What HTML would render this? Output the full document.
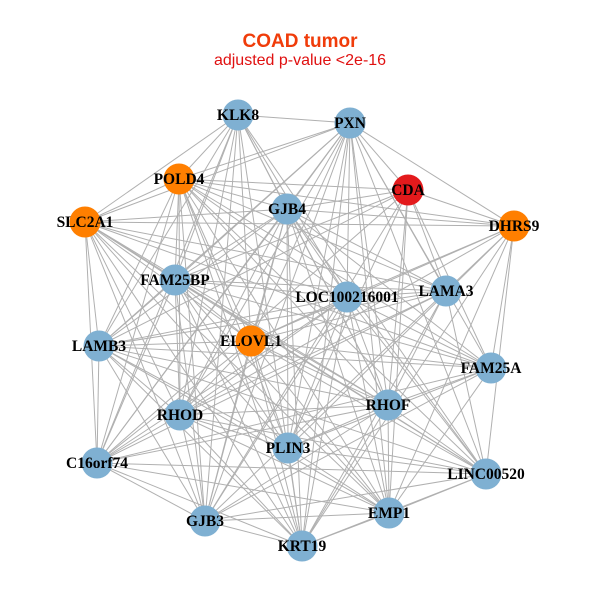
<!DOCTYPE html>
<html><head><meta charset="utf-8"><style>body{margin:0;background:#fff}</style></head>
<body>
<svg id="s" width="600" height="600" xmlns="http://www.w3.org/2000/svg" style="display:block">
<rect width="600" height="600" fill="#fff"/>
<text x="300" y="47" text-anchor="middle" font-family="Liberation Sans, sans-serif" font-weight="bold" font-size="19" fill="#f03c0a">COAD tumor</text>
<text x="300" y="65" text-anchor="middle" font-family="Liberation Sans, sans-serif" font-size="16" fill="#e01010">adjusted p-value &lt;2e-16</text>
<g id="e" stroke="#b0b0b0" stroke-width="1"></g>
<g id="n"></g>
</svg>
<script>
var N=[["KLK8",238,115,"b"],["PXN",350,123,"b"],["POLD4",179,179,"o"],["CDA",408,190,"r"],["GJB4",287,209,"b"],["SLC2A1",85,222,"o"],["DHRS9",514,226,"o"],["FAM25BP",175,280,"b"],["LOC100216001",347,297,"b"],["LAMA3",446,291,"b"],["LAMB3",99,346,"b"],["ELOVL1",251,341,"o"],["FAM25A",491,368,"b"],["RHOF",388,405,"b"],["RHOD",180,415,"b"],["PLIN3",288,448,"b"],["C16orf74",97,463,"b"],["LINC00520",486,474,"b"],["EMP1",389,513,"b"],["GJB3",205,521,"b"],["KRT19",302,546,"b"]];
var C={b:"#7fb0d2",o:"#ff7f00",r:"#e31a1c"};
var ns="http://www.w3.org/2000/svg",e=document.getElementById("e"),g=document.getElementById("n");
for(var i=0;i<N.length;i++)for(var j=i+1;j<N.length;j++){if((i*7+j*3)%9==0)continue;var l=document.createElementNS(ns,"line");l.setAttribute("x1",N[i][1]);l.setAttribute("y1",N[i][2]);l.setAttribute("x2",N[j][1]);l.setAttribute("y2",N[j][2]);e.appendChild(l);}
N.forEach(function(d){var c=document.createElementNS(ns,"circle");c.setAttribute("cx",d[1]);c.setAttribute("cy",d[2]);c.setAttribute("r",15.5);c.setAttribute("fill",C[d[3]]);g.appendChild(c);});
N.forEach(function(d){var t=document.createElementNS(ns,"text");t.setAttribute("x",d[1]);t.setAttribute("y",d[2]+5);t.setAttribute("text-anchor","middle");t.setAttribute("font-family","Liberation Serif, serif");t.setAttribute("font-weight","bold");t.setAttribute("font-size","15.5");t.textContent=d[0];g.appendChild(t);});
</script>
</body></html>
